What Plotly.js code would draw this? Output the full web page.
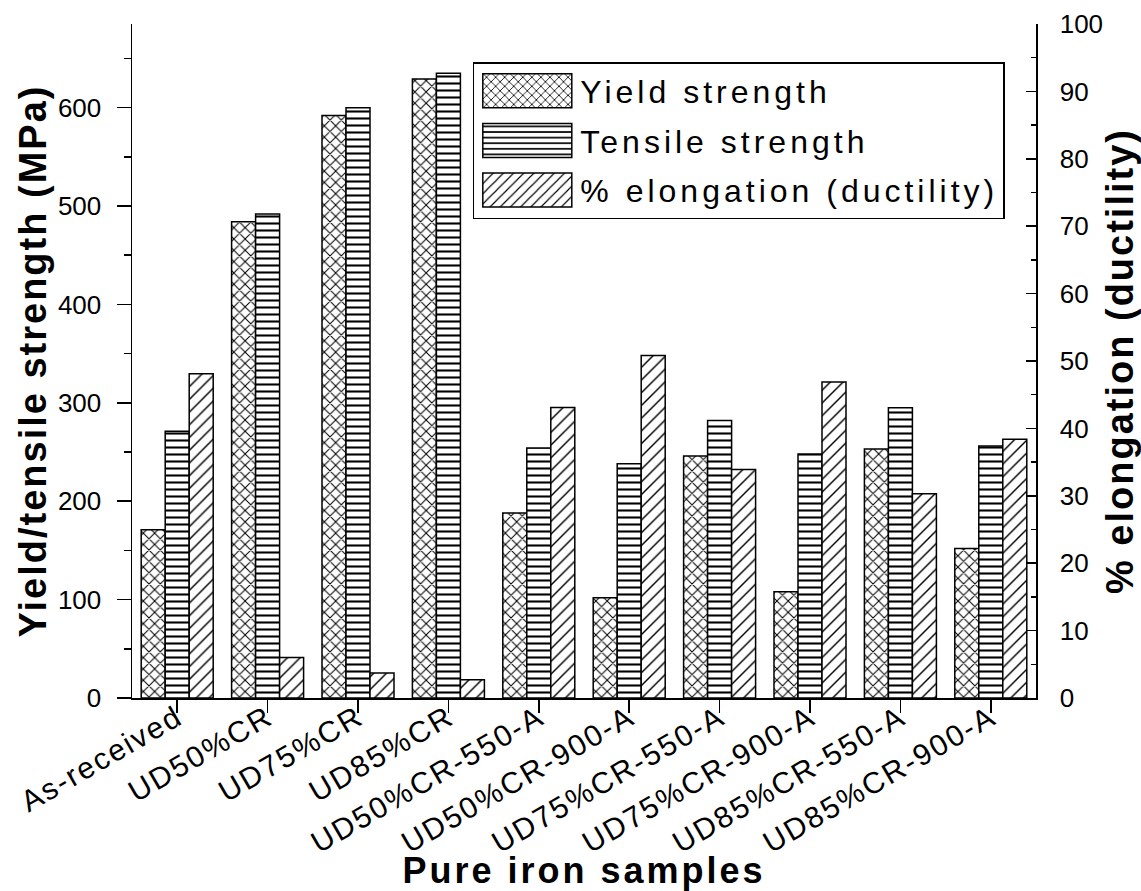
<!DOCTYPE html>
<html>
<head>
<meta charset="utf-8">
<script src="https://cdn.plot.ly/plotly-3.0.1.min.js"></script>
<style>
  html, body { margin: 0; padding: 0; background: #fff; }
  #chart { width: 1141px; height: 891px; }
  .xtick text { letter-spacing: 2px; }
  .legendtext { letter-spacing: 4px; }
  .xtitle { letter-spacing: 3px; transform: translateY(-5px); }
  .ytitle, .y2title { letter-spacing: 2px; }
</style>
</head>
<body>
<div id="chart"></div>
<script>
// ---- data ----
const categories = ['As-received', 'UD50%CR', 'UD75%CR', 'UD85%CR', 'UD50%CR-550-A',
  'UD50%CR-900-A', 'UD75%CR-550-A', 'UD75%CR-900-A', 'UD85%CR-550-A', 'UD85%CR-900-A'];
const yieldStrength   = [171, 484, 592, 629, 188, 102, 246, 108, 253, 152];   // MPa
const tensileStrength = [271, 492, 600, 635, 254, 238, 282, 248, 295, 256];   // MPa
const elongation      = [48.1, 6.0, 3.7, 2.7, 43.1, 50.8, 33.9, 46.9, 30.3, 38.4]; // %
const seriesNames = ['Yield strength', 'Tensile strength', '% elongation (ductility)'];
const leftTicks = [0, 100, 200, 300, 400, 500, 600];
const rightTicks = [0, 10, 20, 30, 40, 50, 60, 70, 80, 90, 100];

const FONT = 'Liberation Sans, Arial, sans-serif';
const BW = 0.2655;
const lineStyle = { color: 'black', width: 1.5 };

function barTrace(name, y, yaxis, offset, shape, size, solidity, group) {
  return {
    type: 'bar', name: name, x: categories, y: y, yaxis: yaxis,
    width: BW, offset: offset,
    legendgroup: group,
    marker: {
      color: 'white',
      line: lineStyle,
      pattern: { shape: shape, size: size, solidity: solidity,
                 fgcolor: 'black', bgcolor: 'white', fgopacity: 1, fillmode: 'replace' }
    }
  };
}

const traces = [
  barTrace(seriesNames[0], yieldStrength, 'y', -1.5 * BW, 'x', 8, 0.24, 'g1'),
  barTrace(seriesNames[1], tensileStrength, 'y', -0.5 * BW, '-', 7, 0.3, 'g2'),
  barTrace(seriesNames[2], elongation, 'y2', 0.5 * BW, '/', 9, 0.16, 'g3')
];

const boundaries = [];
for (let i = 0; i <= categories.length; i++) boundaries.push(i - 0.5);
const centers = categories.map((c, i) => i);

const layout = {
  width: 1141, height: 891,
  margin: { l: 132, r: 105, t: 24, b: 193 },
  paper_bgcolor: 'white', plot_bgcolor: 'white',
  font: { family: FONT, color: 'black', size: 26 },
  barmode: 'group',
  showlegend: true,
  legend: {
    x: 0.377, y: 0.9436, xanchor: 'left', yanchor: 'top',
    bgcolor: 'white', bordercolor: 'black', borderwidth: 1.5,
    font: { family: FONT, size: 32, color: 'black' },
    itemwidth: 96, traceorder: 'grouped', tracegroupgap: 5,
    itemclick: false, itemdoubleclick: false
  },
  xaxis: {
    type: 'category', range: [-0.5, categories.length - 0.5],
    showline: true, linecolor: 'black', linewidth: 1.5,
    ticks: 'outside', ticklen: 13, tickwidth: 1.5, tickcolor: 'black',
    tickangle: -30, ticklabelstandoff: -24,
    tickfont: { family: FONT, size: 30, color: 'black' },
    showgrid: false, zeroline: false,
    title: { text: 'Pure iron samples', standoff: 2,
             font: { family: FONT, size: 36, weight: 'bold', color: 'black' } }
  },
  xaxis2: {
    overlaying: 'x', anchor: 'y', side: 'bottom', type: 'linear',
    range: [-0.5, categories.length - 0.5],
    tickmode: 'array', tickvals: boundaries, ticks: 'outside', ticklen: 7,
    tickwidth: 1.5, tickcolor: 'black', showticklabels: false,
    showgrid: false, zeroline: false, showline: false
  },
  xaxis3: {
    overlaying: 'x', anchor: 'y', side: 'top', type: 'linear',
    range: [-0.5, categories.length - 0.5],
    tickmode: 'array', tickvals: centers, ticks: 'inside', ticklen: 10,
    tickwidth: 1.5, tickcolor: 'black', showticklabels: false,
    minor: { tickmode: 'array', tickvals: boundaries, ticks: 'inside', ticklen: 5, tickwidth: 1.5, tickcolor: 'black' },
    showgrid: false, zeroline: false, showline: true, linecolor: 'black', linewidth: 1.5
  },
  yaxis: {
    range: [0, 685], tickmode: 'array', tickvals: leftTicks,
    showline: true, linecolor: 'black', linewidth: 1.5,
    ticks: 'outside', ticklen: 14, tickwidth: 1.5, tickcolor: 'black',
    minor: { dtick: 50, tick0: 0, ticks: 'outside', ticklen: 7, tickwidth: 1.5, tickcolor: 'black' },
    ticklabelstandoff: 10,
    tickfont: { family: FONT, size: 26, color: 'black' },
    showgrid: false, zeroline: false,
    title: { text: 'Yield/tensile strength (MPa)', font: { family: FONT, size: 38, weight: 'bold', color: 'black' } }
  },
  yaxis2: {
    overlaying: 'y', side: 'right', anchor: 'x',
    range: [0, 100], tickmode: 'array', tickvals: rightTicks,
    showline: true, linecolor: 'black', linewidth: 1.5,
    ticks: 'inside', ticklen: 10, tickwidth: 1.5, tickcolor: 'black',
    minor: { dtick: 5, tick0: 0, ticks: 'inside', ticklen: 5, tickwidth: 1.5, tickcolor: 'black' },
    ticklabelstandoff: 17,
    tickfont: { family: FONT, size: 26, color: 'black' },
    showgrid: false, zeroline: false,
    title: { text: '% elongation (ductility)', standoff: 4,
             font: { family: FONT, size: 38, weight: 'bold', color: 'black' } }
  }
};

// enlarge legend swatches to the wide rectangles of the original figure
function widenSwatches() {
  document.querySelectorAll('#chart g.legendpoints path').forEach(function (p) {
    if (p.getAttribute('d') !== 'M44.5,17H-44.5V-17H44.5Z') {
      p.setAttribute('d', 'M44.5,17H-44.5V-17H44.5Z');
    }
  });
}

const gd = document.getElementById('chart');
const pr = Plotly.newPlot(gd, traces, layout, { staticPlot: true, displayModeBar: false });
widenSwatches();
gd.on && gd.on('plotly_afterplot', widenSwatches);
pr.then(function () { widenSwatches(); setTimeout(widenSwatches, 0); setTimeout(widenSwatches, 200); });
</script>
</body>
</html>
